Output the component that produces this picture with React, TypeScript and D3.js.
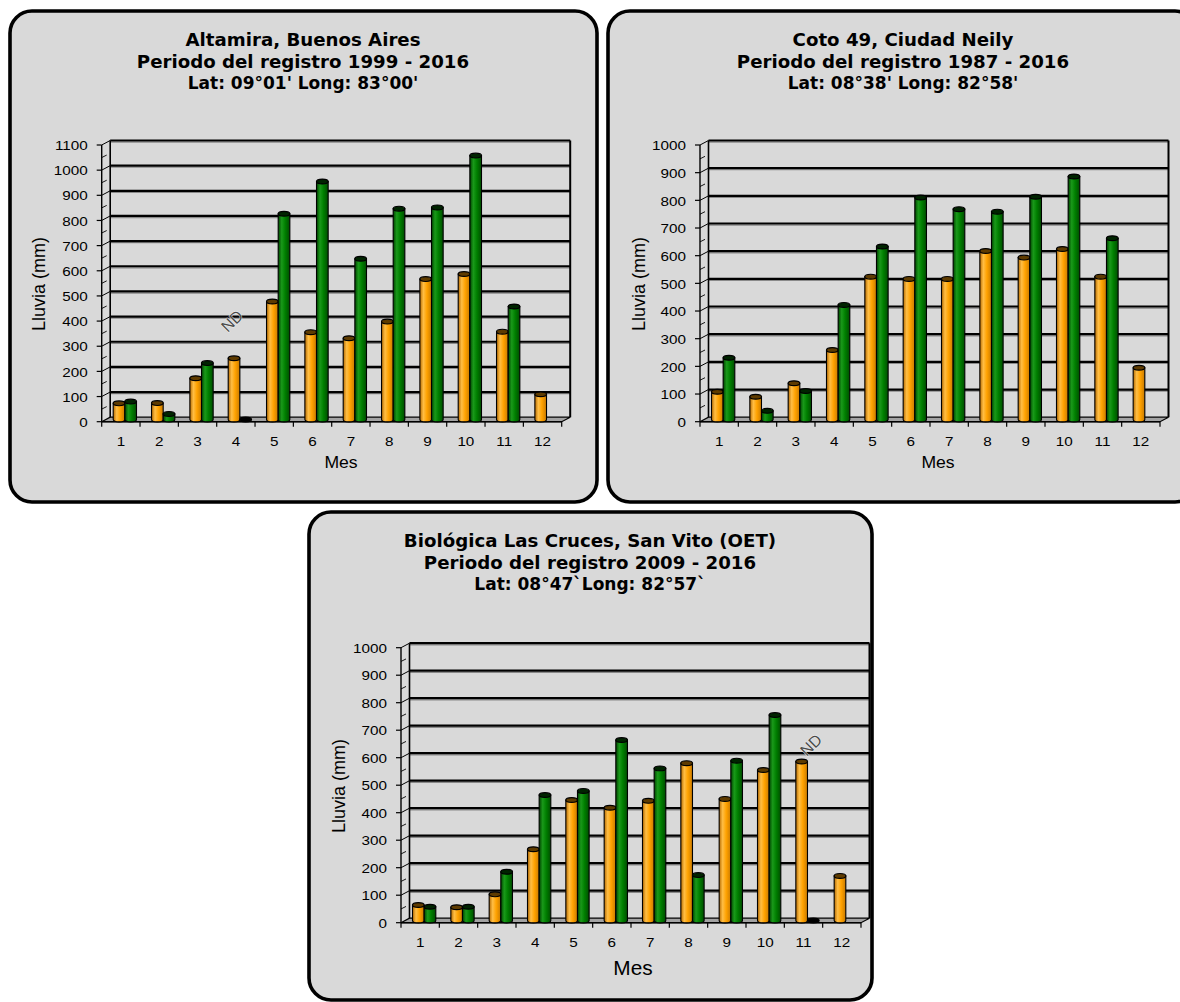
import React from "react";
import * as d3 from "d3";

const months = ["1", "2", "3", "4", "5", "6", "7", "8", "9", "10", "11", "12"];

const altamiraOrange = [64, 65, 164, 243, 469, 347, 323, 389, 558, 578, 349, 100];
const altamiraGreen: (number | null)[] = [71, 22, 224, 0, 818, 946, 639, 838, 843, 1049, 449, null];

const cotoOrange = [100, 82, 131, 251, 516, 508, 508, 609, 585, 616, 516, 187];
const cotoGreen: (number | null)[] = [223, 31, 103, 414, 625, 802, 760, 751, 805, 878, 655, null];

const crucesOrange = [56, 48, 95, 259, 438, 410, 435, 572, 442, 547, 578, 162];
const crucesGreen: (number | null)[] = [50, 50, 177, 456, 471, 656, 553, 165, 581, 747, 0, null];

const titles1 = ["Altamira, Buenos Aires", "Periodo del registro 1999 - 2016", "Lat: 09°01' Long: 83°00'"];
const titles2 = ["Coto 49, Ciudad Neily", "Periodo del registro 1987 - 2016", "Lat: 08°38' Long: 82°58'"];
const titles3 = ["Biológica Las Cruces, San Vito (OET)", "Periodo del registro 2009 - 2016", "Lat: 08°47`Long: 82°57`"];

const SANS = "'Liberation Sans', Arial, sans-serif";
const BOLD = "'DejaVu Sans', Verdana, sans-serif";

function T(props: any) {
  const { x, y, size, sx = 1, anchor = "middle", weight = "normal", family = SANS, fill = "#000", rotate = 0, children, stroke } = props;
  return (
    <text
      transform={`translate(${x},${y}) rotate(${rotate}) scale(${sx},1)`}
      fontSize={size}
      textAnchor={anchor}
      dominantBaseline="central"
      fontFamily={family}
      fontWeight={weight}
      fill={fill}
      stroke={stroke}
      strokeWidth={stroke ? 0.8 : undefined}
      style={{ paintOrder: "stroke" }}
    >
      {children}
    </text>
  );
}

type Cfg = {
  id: string;
  panel: { x: number; y: number; w: number; h: number };
  titles: string[];
  titleX: number;
  titleY: number[];
  x0: number;
  xEnd: number;
  y0: number;
  yTop: number;
  max: number;
  orange: number[];
  green: (number | null)[];
  ylab: [number, number];
  mes: [number, number, number];
  nd?: [number, number];
};

const charts: Cfg[] = [
  {
    id: "a",
    panel: { x: 10, y: 11, w: 587, h: 491 },
    titles: titles1,
    titleX: 303,
    titleY: [40, 62, 83],
    x0: 101.7,
    xEnd: 561.7,
    y0: 421.7,
    yTop: 145,
    max: 1100,
    orange: altamiraOrange,
    green: altamiraGreen,
    ylab: [39, 284],
    mes: [341, 463, 16],
    nd: [232, 321],
  },
  {
    id: "b",
    panel: { x: 608, y: 11, w: 589, h: 491 },
    titles: titles2,
    titleX: 903,
    titleY: [40, 62, 83],
    x0: 700,
    xEnd: 1160,
    y0: 421.7,
    yTop: 145,
    max: 1000,
    orange: cotoOrange,
    green: cotoGreen,
    ylab: [639, 284],
    mes: [938, 463, 16],
  },
  {
    id: "c",
    panel: { x: 309, y: 512, w: 563, h: 488 },
    titles: titles3,
    titleX: 590,
    titleY: [541, 563, 584],
    x0: 401,
    xEnd: 861,
    y0: 922.7,
    yTop: 647.7,
    max: 1000,
    orange: crucesOrange,
    green: crucesGreen,
    ylab: [339, 786],
    mes: [633, 968, 20],
    nd: [811, 745],
  },
];

const DX = 8.5;
const DY = -4.5;

function Cylinder({ cx, bw, yb, yt, grad, top }: any) {
  const rx = bw / 2;
  const ry = 2.4;
  const l = cx - rx;
  const r = cx + rx;
  const body = `M${l},${yt} L${l},${yb} A${rx},${ry} 0 0 0 ${r},${yb} L${r},${yt} Z`;
  return (
    <g>
      {yb - yt > 0.5 && <path d={body} fill={`url(#${grad})`} stroke="#000" strokeWidth={1.1} />}
      <ellipse cx={cx} cy={yt} rx={rx} ry={ry} fill={top} stroke="#000" strokeWidth={1.2} />
    </g>
  );
}

function Chart({ c }: { c: Cfg }) {
  const yF = d3.scaleLinear().domain([0, c.max]).range([c.y0, c.yTop]);
  const xB = d3.scaleBand<string>().domain(months).range([c.x0, c.xEnd]).padding(0);
  const sB = d3.scaleBand<string>().domain(["o", "g"]).range([11.5, 34.8]).padding(0);
  const ticks = d3.range(0, c.max + 1, 100);
  const minor = d3.range(50, c.max, 100);
  const { x, y, w, h } = c.panel;
  const r = 22;
  const yTopB = yF(c.max) + DY;
  const barBase = c.y0 + DY / 2;
  return (
    <g>
      <rect x={x} y={y} width={w} height={h} rx={r} ry={r} fill="#d9d9d9" stroke="#000" strokeWidth={3.6} />
      {c.titles.map((t, i) => (
        <T key={i} x={c.titleX} y={c.titleY[i]} size={17} sx={i === 2 ? 1.0 : 1.07} weight="bold" family={BOLD}>
          {t}
        </T>
      ))}
      {/* floor */}
      <polygon
        points={`${c.x0},${c.y0} ${c.xEnd},${c.y0} ${c.xEnd + DX},${c.y0 + DY} ${c.x0 + DX},${c.y0 + DY}`}
        fill="#a3a3a3"
        stroke="#000"
        strokeWidth={1.2}
      />
      {/* gridlines */}
      {ticks.slice(1).map((v) => (
        <g key={v}>
          <line x1={c.x0 + DX} x2={c.xEnd + DX} y1={yF(v) + DY + 1.6} y2={yF(v) + DY + 1.6} stroke="#8a8a8a" strokeWidth={1.2} />
          <line x1={c.x0 + DX} x2={c.xEnd + DX} y1={yF(v) + DY} y2={yF(v) + DY} stroke="#000" strokeWidth={2.2} />
          <line x1={c.x0} x2={c.x0 + DX} y1={yF(v)} y2={yF(v) + DY} stroke="#000" strokeWidth={1} />
        </g>
      ))}
      {minor.map((v) => (
        <line key={v} x1={c.x0} x2={c.x0 + 5} y1={yF(v)} y2={yF(v) - 2.5} stroke="#000" strokeWidth={0.9} />
      ))}
      {/* walls edges */}
      <line x1={c.x0 + DX} x2={c.x0 + DX} y1={c.y0 + DY} y2={yTopB} stroke="#000" strokeWidth={1.6} />
      <line x1={c.xEnd + DX} x2={c.xEnd + DX} y1={c.y0 + DY} y2={yTopB} stroke="#000" strokeWidth={2} />
      <line x1={c.x0} x2={c.x0} y1={c.y0} y2={yF(c.max)} stroke="#000" strokeWidth={1.4} />
      <line x1={c.x0} x2={c.xEnd} y1={c.y0} y2={c.y0} stroke="#000" strokeWidth={1.4} />
      {/* y ticks */}
      {ticks.map((v) => (
        <g key={v}>
          <line x1={c.x0 - 5} x2={c.x0} y1={yF(v)} y2={yF(v)} stroke="#000" strokeWidth={1.2} />
          <T x={c.x0 - 14} y={yF(v) + 0.5} size={13.5} sx={1.13} anchor="end">
            {v}
          </T>
        </g>
      ))}
      {/* x ticks */}
      {months.concat(["end"]).map((m, i) => {
        const xx = c.x0 + i * xB.bandwidth();
        return <line key={m} x1={xx} x2={xx} y1={c.y0} y2={c.y0 + 5} stroke="#000" strokeWidth={1.2} />;
      })}
      {months.map((m) => (
        <T key={m} x={(xB(m) as number) + xB.bandwidth() / 2} y={c.y0 + 20} size={13.5} sx={1.13}>
          {m}
        </T>
      ))}
      {/* bars */}
      {months.map((m, i) => {
        const left = xB(m) as number;
        const out: any[] = [];
        const ov = c.orange[i];
        const gv = c.green[i];
        if (ov != null)
          out.push(
            <Cylinder key="o" cx={left + (sB("o") as number) + sB.bandwidth() / 2} bw={sB.bandwidth()} yb={barBase} yt={yF(ov) + DY / 2} grad="gOr" top="#5e3b00" />
          );
        if (gv != null)
          out.push(
            <Cylinder key="g" cx={left + (sB("g") as number) + sB.bandwidth() / 2} bw={sB.bandwidth()} yb={barBase} yt={yF(gv) + DY / 2} grad="gGr" top={gv === 0 ? "#000" : "#002400"} />
          );
        return <g key={m}>{out}</g>;
      })}
      {c.nd && (
        <T x={c.nd[0]} y={c.nd[1]} size={16} rotate={-45} fill="#4a4a4a" stroke="#f2f2f2">
          ND
        </T>
      )}
      <T x={c.ylab[0]} y={c.ylab[1]} size={18} rotate={-90}>
        Lluvia (mm)
      </T>
      <T x={c.mes[0]} y={c.mes[1]} size={c.mes[2]} sx={c.mes[2] > 17 ? 1.04 : 1.1}>
        Mes
      </T>
    </g>
  );
}

export default function App() {
  return (
    <svg width={1180} height={1002} style={{ position: "absolute", left: 0, top: 0, background: "#fff" }}>
      <defs>
        <linearGradient id="gOr" x1="0" x2="1" y1="0" y2="0">
          <stop offset="0%" stopColor="#b56a00" />
          <stop offset="30%" stopColor="#ffbe45" />
          <stop offset="60%" stopColor="#ffa200" />
          <stop offset="100%" stopColor="#c97a00" />
        </linearGradient>
        <linearGradient id="gGr" x1="0" x2="1" y1="0" y2="0">
          <stop offset="0%" stopColor="#004400" />
          <stop offset="30%" stopColor="#1a991a" />
          <stop offset="60%" stopColor="#007f00" />
          <stop offset="100%" stopColor="#004d00" />
        </linearGradient>
      </defs>
      {charts.map((c) => (
        <Chart key={c.id} c={c} />
      ))}
    </svg>
  );
}
